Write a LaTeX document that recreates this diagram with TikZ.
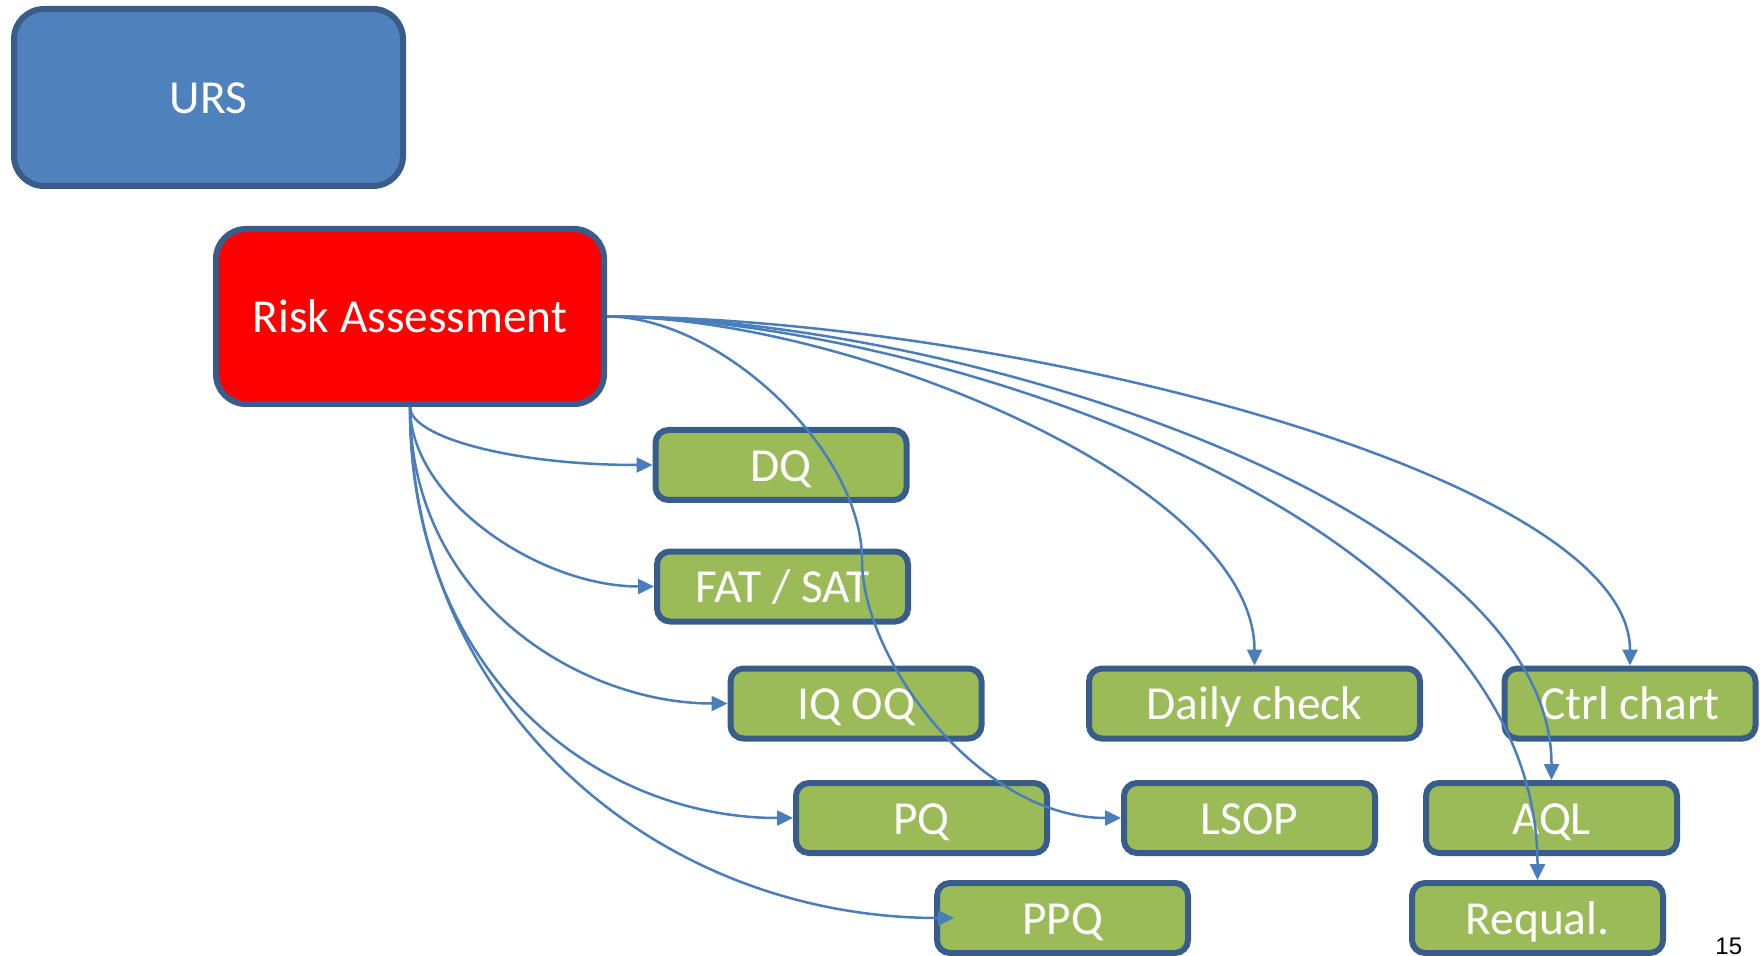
\documentclass[tikz,border=0pt]{standalone}
\usepackage{fontspec}
\setmainfont{Carlito}
\newfontfamily\pagenumfont{Liberation Sans}
\usetikzlibrary{arrows.meta,calc}
\definecolor{ursblue}{HTML}{4F81BD}
\definecolor{edgeblue}{HTML}{385D8A}
\definecolor{linkblue}{HTML}{4A7EBB}
\definecolor{boxgreen}{HTML}{9BBB59}
\definecolor{riskred}{HTML}{FF0000}
\begin{document}
\begin{tikzpicture}[x=0.5pt,y=-0.5pt,
  box/.style={draw=edgeblue, line width=3pt, text=white,
    font=\fontsize{23.7}{28}\selectfont, inner sep=0pt, align=center,
    text height=20pt, text depth=3.9pt},
  bigbox/.style={box, rounded corners=15pt},
  greenbox/.style={box, fill=boxgreen, rounded corners=6.5pt,
    minimum width=125.5pt, minimum height=35pt},
  link/.style={draw=linkblue, line width=1.25pt,
    -{Triangle[length=8pt,width=7.5pt]}}]
\useasboundingbox (0,0) rectangle (1760,956);

% main boxes
\node[bigbox, fill=ursblue, minimum width=194.5pt, minimum height=88.5pt] (urs) at (208.5,97.5) {URS};
\node[bigbox, fill=riskred, minimum width=194pt, minimum height=87.5pt] (ra) at (410,316.5) {Risk Assessment};

% green boxes
\node[greenbox] (dq)   at (781,465)     {DQ};
\node[greenbox] (fat)  at (782.5,586.5) {FAT / SAT};
\node[greenbox] (iqoq) at (856,703.5)   {IQ OQ};
\node[greenbox] (pq)   at (921.5,818)   {PQ};
\node[greenbox] (ppq)  at (1062.5,918)  {PPQ};
\node[greenbox, minimum width=165.5pt] (daily) at (1254.5,703.5) {Daily check};
\node[greenbox] (ctrl) at (1630,703.5)  {Ctrl chart};
\node[greenbox] (lsop) at (1249.5,818)  {LSOP};
\node[greenbox] (aql)  at (1551.5,818)  {AQL};
\node[greenbox] (requal) at (1537.5,918) {Requal.};

% page number
\node[anchor=base west, inner sep=0pt, font=\pagenumfont\fontsize{12}{14}\selectfont] (pnum) at (1715,954) {15};

% connector helper points
\coordinate (ppqin) at (954,918);
\coordinate (lsmid) at (862,560);

% connectors from the bottom of Risk Assessment
\draw[link] (ra.south) .. controls +(0,30) and +(-140,0) .. (dq.west);
\draw[link] (ra.south) .. controls +(0,93) and +(-114,0) .. (fat.west);
\draw[link] (ra.south) .. controls +(0,193) and +(-147,0) .. (iqoq.west);
\draw[link] (ra.south) .. controls +(0,273) and +(-192,0) .. (pq.west);
\draw[link] (ra.south) .. controls +(0,293) and +(-304,0) .. (ppqin);

% connectors from the right side of Risk Assessment
\draw[link] (ra.east) .. controls +(113,0) and (862,450) .. (lsmid)
  .. controls (862,660) and (980,818) .. (lsop.west);
\draw[link] (ra.east) .. controls +(243,0) and +(0,-182) .. (daily.north);
\draw[link] (ra.east) .. controls +(393,0) and +(0,-192) .. (ctrl.north);
\draw[link] (ra.east) .. controls +(343,0) and +(0,-277) .. (aql.north);
\draw[link] (ra.east) .. controls +(293,0) and +(0,-377) .. (requal.north);
\end{tikzpicture}
\end{document}
